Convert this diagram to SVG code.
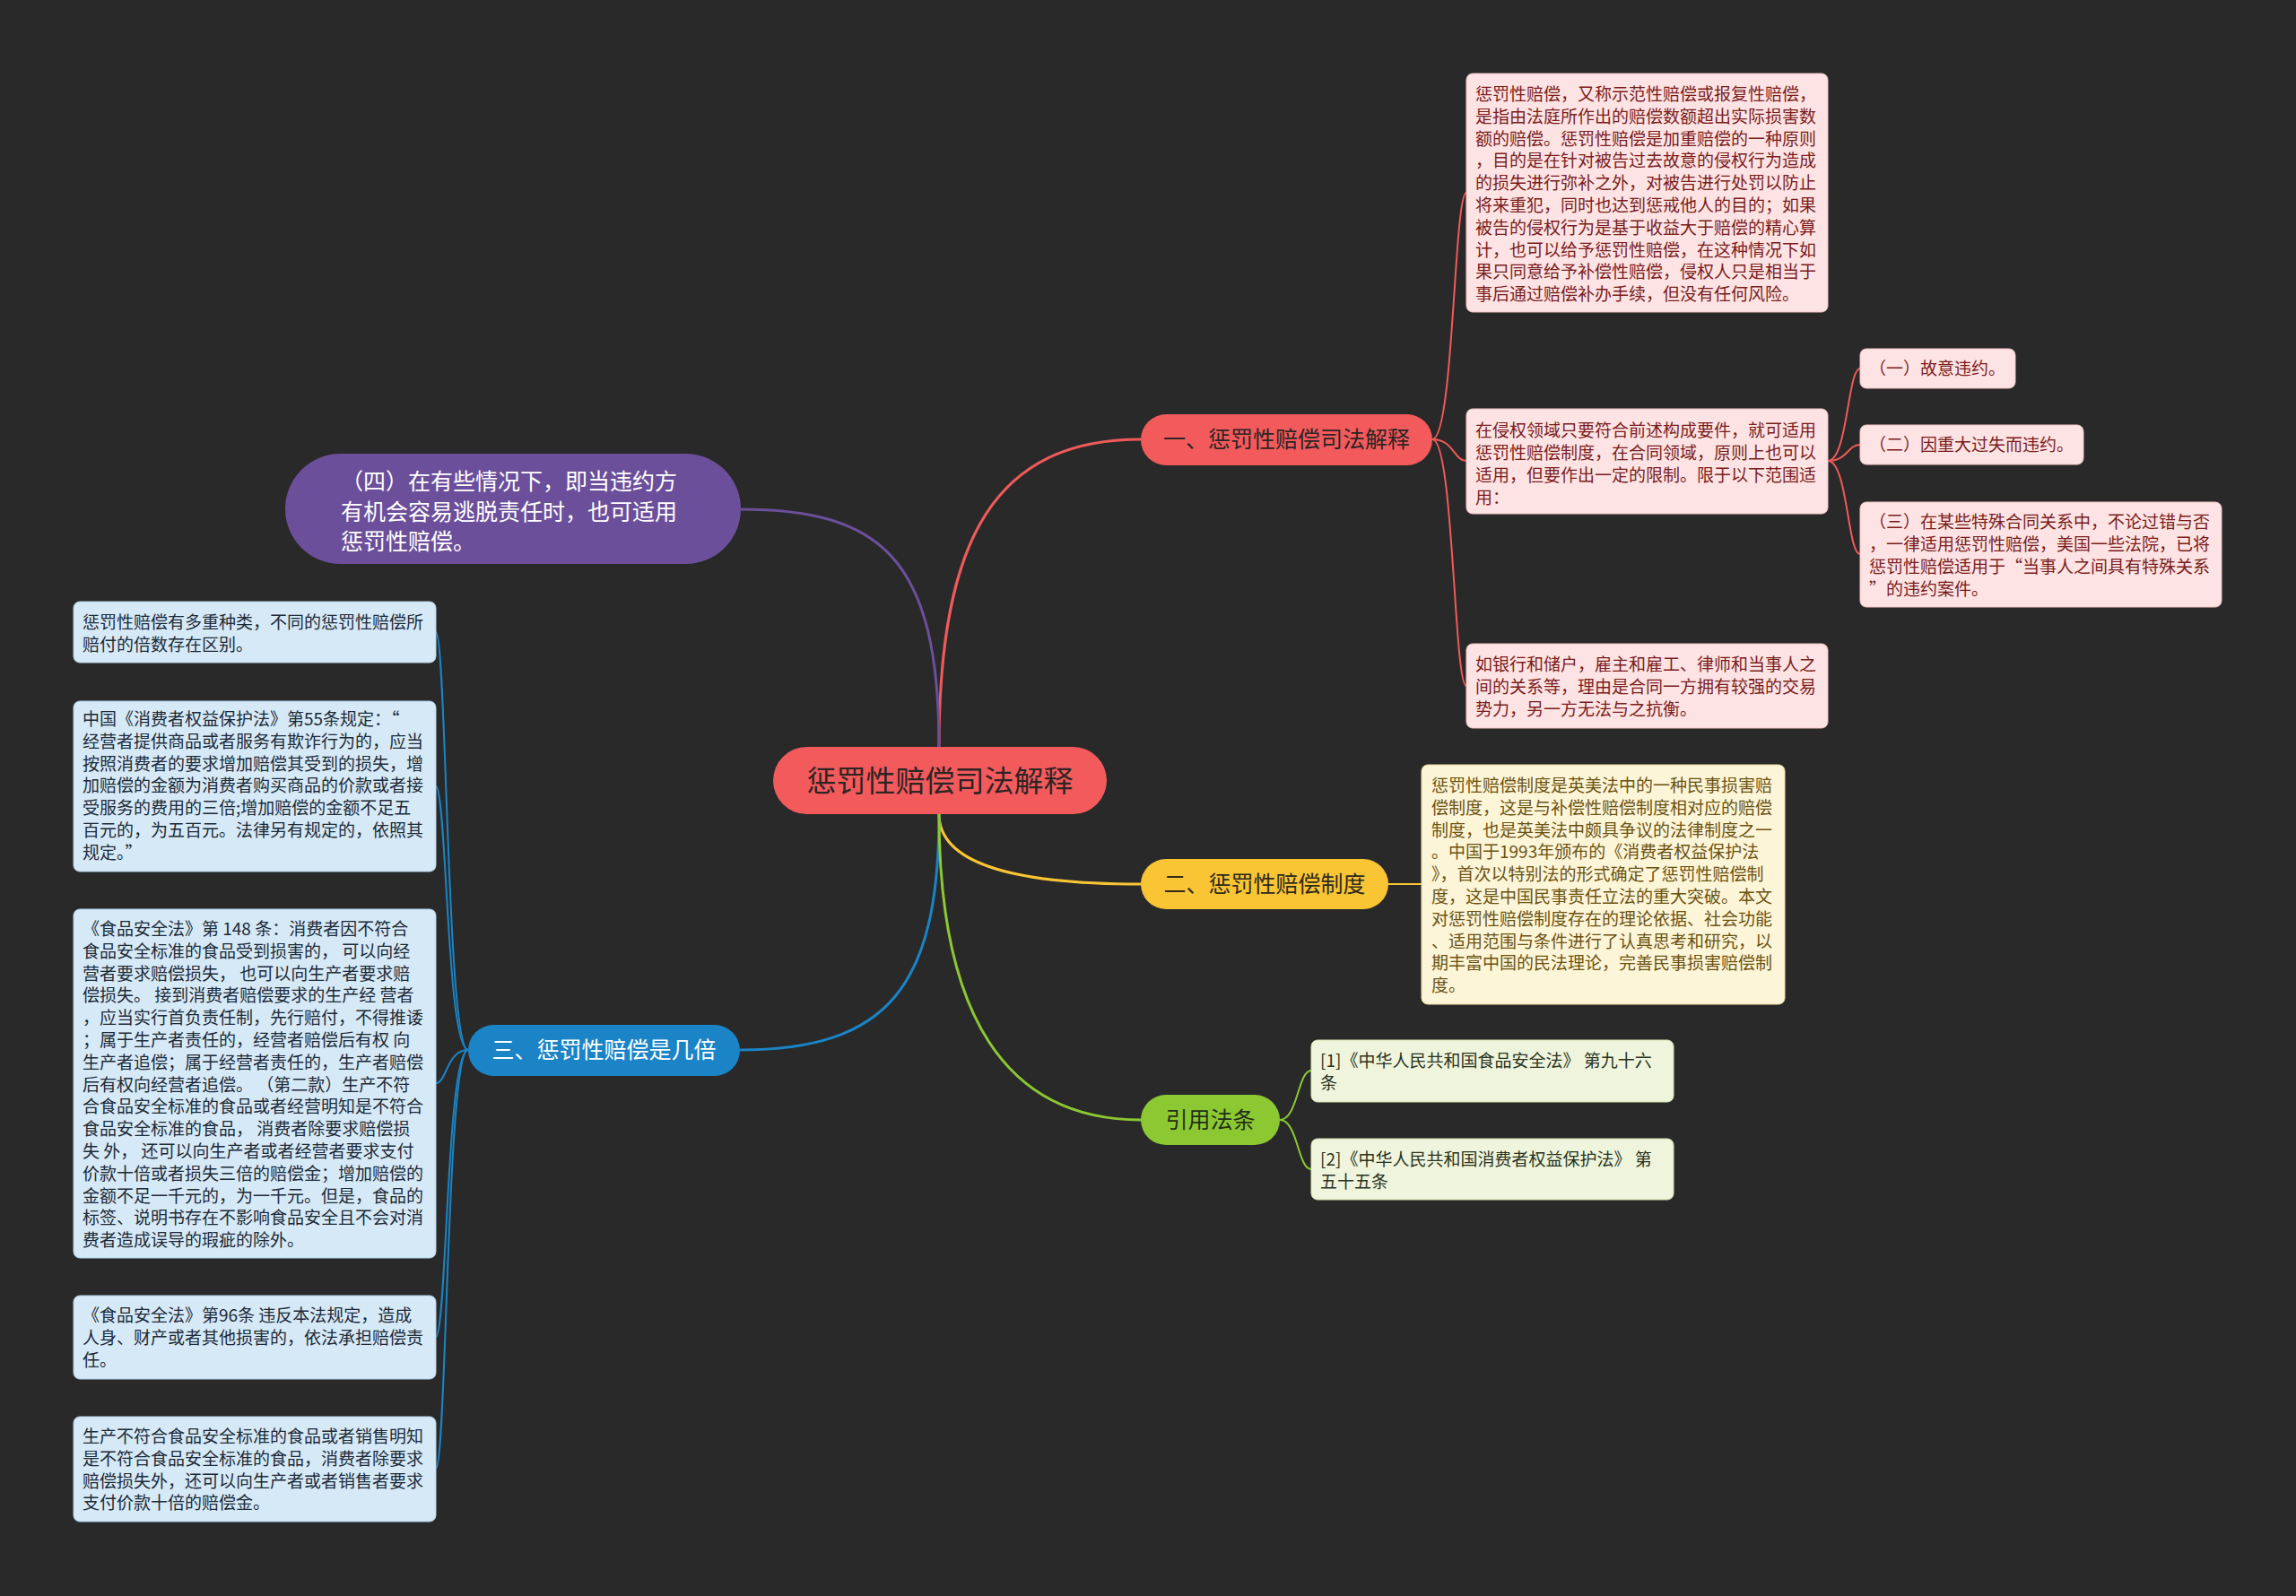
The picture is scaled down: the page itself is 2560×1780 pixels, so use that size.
<svg xmlns="http://www.w3.org/2000/svg" width="2560" height="1780" viewBox="0 0 2560 1780">
<style>
text{font-family:"Noto Sans CJK SC","Noto Sans",sans-serif;}
.leaf{font-size:19px;}
.pk rect{fill:#fde3e3;stroke:#f3c4c4;stroke-width:1;}
.pk text{fill:#7a1c1c;}
.yl rect{fill:#fdf5d8;stroke:#efdca0;stroke-width:1;}
.yl text{fill:#6b5210;}
.gr rect{fill:#eef5dc;stroke:#d2e2b0;stroke-width:1;}
.gr text{fill:#2b3220;}
.bl rect{fill:#d6e9f6;stroke:#b3d2e8;stroke-width:1;}
.bl text{fill:#1c2a38;}
.br{font-size:25px;}
.conn path{fill:none;}
</style>
<rect x="0" y="0" width="2560" height="1780" fill="#292929"/>
<g id="connectors" class="conn">
  <path d="M1047,833 C1047,600 1110,490 1272,490" stroke="#f05a5a" stroke-width="3"/>
  <path d="M1047,833 C1047,620 980,568 825,568" stroke="#6c4f9a" stroke-width="3"/>
  <path d="M1047,908 C1047,960 1120,986 1272,986" stroke="#f9c535" stroke-width="3"/>
  <path d="M1047,908 C1047,1100 990,1171 825,1171" stroke="#1a84c6" stroke-width="3"/>
  <path d="M1047,908 C1047,1130 1120,1249 1272,1249" stroke="#8cc832" stroke-width="3"/>
  <g stroke="#f05a5a" stroke-width="2">
    <path d="M1597,490 C1621,490 1621,215 1635,215"/>
    <path d="M1597,490 C1621,490 1621,514 1635,514"/>
    <path d="M1597,490 C1621,490 1621,765 1635,765"/>
    <path d="M2038,514 C2060,514 2060,411 2074,411"/>
    <path d="M2038,514 C2060,514 2060,496 2074,496"/>
    <path d="M2038,514 C2060,514 2060,618 2074,618"/>
  </g>
  <path d="M1548,986 L1585,986" stroke="#f9c535" stroke-width="2"/>
  <g stroke="#1a84c6" stroke-width="2">
    <path d="M522,1171 C498,1171 498,705 486,705"/>
    <path d="M522,1171 C498,1171 498,877 486,877"/>
    <path d="M522,1171 C498,1171 498,1208 486,1208"/>
    <path d="M522,1171 C498,1171 498,1491 486,1491"/>
    <path d="M522,1171 C498,1171 498,1638 486,1638"/>
  </g>
  <g stroke="#8cc832" stroke-width="2">
    <path d="M1427,1249 C1447,1249 1447,1194 1462,1194"/>
    <path d="M1427,1249 C1447,1249 1447,1304 1462,1304"/>
  </g>
</g>

<g id="root">
  <rect x="862" y="833" width="372" height="75" rx="37.5" fill="#f25a5c"/>
  <text x="1048" y="883" font-size="33" text-anchor="middle" fill="#2e2424">惩罚性赔偿司法解释</text>
</g>

<g id="branch1">
  <rect x="1272" y="462" width="325" height="57" rx="28.5" fill="#f25a5c"/>
  <text class="br" x="1434.5" y="499" text-anchor="middle" fill="#2e2424">一、惩罚性赔偿司法解释</text>
</g>
<g id="branch2">
  <rect x="1272" y="958" width="276" height="56" rx="28" fill="#f9c535"/>
  <text class="br" x="1410" y="995" text-anchor="middle" fill="#2e2a1c">二、惩罚性赔偿制度</text>
</g>
<g id="branch3">
  <rect x="522" y="1143" width="303" height="57" rx="28.5" fill="#1a84c6"/>
  <text class="br" x="673.5" y="1180" text-anchor="middle" fill="#ffffff">三、惩罚性赔偿是几倍</text>
</g>
<g id="branch4">
  <rect x="1272" y="1221" width="155" height="56" rx="28" fill="#8cc832"/>
  <text class="br" x="1349.5" y="1258" text-anchor="middle" fill="#22301a">引用法条</text>
</g>
<g id="branch-purple">
  <rect x="318" y="506" width="508" height="123" rx="61.5" fill="#6c4f9a"/>
  <text font-size="25" fill="#ffffff">
    <tspan x="380" y="546">（四）在有些情况下，即当违约方</tspan>
    <tspan x="380" y="580">有机会容易逃脱责任时，也可适用</tspan>
    <tspan x="380" y="613">惩罚性赔偿。</tspan>
  </text>
</g>

<g id="leaf-p1" class="pk">
  <rect x="1635" y="82" width="403" height="266" rx="7"/>
  <text class="leaf">
    <tspan x="1645" y="112">惩罚性赔偿，又称示范性赔偿或报复性赔偿，</tspan>
    <tspan x="1645" y="136.8">是指由法庭所作出的赔偿数额超出实际损害数</tspan>
    <tspan x="1645" y="161.6">额的赔偿。惩罚性赔偿是加重赔偿的一种原则</tspan>
    <tspan x="1645" y="186.4">，目的是在针对被告过去故意的侵权行为造成</tspan>
    <tspan x="1645" y="211.2">的损失进行弥补之外，对被告进行处罚以防止</tspan>
    <tspan x="1645" y="236">将来重犯，同时也达到惩戒他人的目的；如果</tspan>
    <tspan x="1645" y="260.8">被告的侵权行为是基于收益大于赔偿的精心算</tspan>
    <tspan x="1645" y="285.6">计，也可以给予惩罚性赔偿，在这种情况下如</tspan>
    <tspan x="1645" y="310.4">果只同意给予补偿性赔偿，侵权人只是相当于</tspan>
    <tspan x="1645" y="335.2">事后通过赔偿补办手续，但没有任何风险。</tspan>
  </text>
</g>
<g id="leaf-p2" class="pk">
  <rect x="1635" y="456" width="403" height="117" rx="7"/>
  <text class="leaf">
    <tspan x="1645" y="487">在侵权领域只要符合前述构成要件，就可适用</tspan>
    <tspan x="1645" y="512">惩罚性赔偿制度，在合同领域，原则上也可以</tspan>
    <tspan x="1645" y="537">适用，但要作出一定的限制。限于以下范围适</tspan>
    <tspan x="1645" y="562">用：</tspan>
  </text>
</g>
<g id="leaf-p3" class="pk">
  <rect x="1635" y="718" width="403" height="94" rx="7"/>
  <text class="leaf">
    <tspan x="1645" y="748">如银行和储户，雇主和雇工、律师和当事人之</tspan>
    <tspan x="1645" y="773">间的关系等，理由是合同一方拥有较强的交易</tspan>
    <tspan x="1645" y="798">势力，另一方无法与之抗衡。</tspan>
  </text>
</g>
<g id="leaf-p21" class="pk">
  <rect x="2074" y="389" width="173" height="44" rx="7"/>
  <text class="leaf" x="2084" y="418">（一）故意违约。</text>
</g>
<g id="leaf-p22" class="pk">
  <rect x="2074" y="474" width="249" height="44" rx="7"/>
  <text class="leaf" x="2084" y="503">（二）因重大过失而违约。</text>
</g>
<g id="leaf-p23" class="pk">
  <rect x="2074" y="560" width="403" height="117" rx="7"/>
  <text class="leaf">
    <tspan x="2084" y="589">（三）在某些特殊合同关系中，不论过错与否</tspan>
    <tspan x="2084" y="614">，一律适用惩罚性赔偿，美国一些法院，已将</tspan>
    <tspan x="2084" y="639">惩罚性赔偿适用于“当事人之间具有特殊关系</tspan>
    <tspan x="2084" y="664">”的违约案件。</tspan>
  </text>
</g>

<g id="leaf-y1" class="yl">
  <rect x="1585" y="853" width="405" height="267" rx="7"/>
  <text class="leaf">
    <tspan x="1596" y="883">惩罚性赔偿制度是英美法中的一种民事损害赔</tspan>
    <tspan x="1596" y="907.8">偿制度，这是与补偿性赔偿制度相对应的赔偿</tspan>
    <tspan x="1596" y="932.6">制度，也是英美法中颇具争议的法律制度之一</tspan>
    <tspan x="1596" y="957.4">。中国于1993年颁布的《消费者权益保护法</tspan>
    <tspan x="1596" y="982.2">》，首次以特别法的形式确定了惩罚性赔偿制</tspan>
    <tspan x="1596" y="1007">度，这是中国民事责任立法的重大突破。本文</tspan>
    <tspan x="1596" y="1031.8">对惩罚性赔偿制度存在的理论依据、社会功能</tspan>
    <tspan x="1596" y="1056.6">、适用范围与条件进行了认真思考和研究，以</tspan>
    <tspan x="1596" y="1081.4">期丰富中国的民法理论，完善民事损害赔偿制</tspan>
    <tspan x="1596" y="1106.2">度。</tspan>
  </text>
</g>

<g id="leaf-g1" class="gr">
  <rect x="1462" y="1160" width="404" height="69" rx="7"/>
  <text class="leaf">
    <tspan x="1472" y="1190">[1]《中华人民共和国食品安全法》 第九十六</tspan>
    <tspan x="1472" y="1215">条</tspan>
  </text>
</g>
<g id="leaf-g2" class="gr">
  <rect x="1462" y="1270" width="404" height="68" rx="7"/>
  <text class="leaf">
    <tspan x="1472" y="1300">[2]《中华人民共和国消费者权益保护法》 第</tspan>
    <tspan x="1472" y="1325">五十五条</tspan>
  </text>
</g>

<g id="leaf-b1" class="bl">
  <rect x="82" y="671" width="404" height="68" rx="7"/>
  <text class="leaf">
    <tspan x="92" y="701">惩罚性赔偿有多重种类，不同的惩罚性赔偿所</tspan>
    <tspan x="92" y="725.8">赔付的倍数存在区别。</tspan>
  </text>
</g>
<g id="leaf-b2" class="bl">
  <rect x="82" y="782" width="404" height="190" rx="7"/>
  <text class="leaf">
    <tspan x="92" y="809">中国《消费者权益保护法》第55条规定：“</tspan>
    <tspan x="92" y="833.8">经营者提供商品或者服务有欺诈行为的，应当</tspan>
    <tspan x="92" y="858.6">按照消费者的要求增加赔偿其受到的损失，增</tspan>
    <tspan x="92" y="883.4">加赔偿的金额为消费者购买商品的价款或者接</tspan>
    <tspan x="92" y="908.2">受服务的费用的三倍;增加赔偿的金额不足五</tspan>
    <tspan x="92" y="933">百元的，为五百元。法律另有规定的，依照其</tspan>
    <tspan x="92" y="957.8">规定。”</tspan>
  </text>
</g>
<g id="leaf-b3" class="bl">
  <rect x="82" y="1014" width="404" height="389" rx="7"/>
  <text class="leaf">
    <tspan x="92" y="1043">《食品安全法》第 148 条：消费者因不符合</tspan>
    <tspan x="92" y="1067.8">食品安全标准的食品受到损害的， 可以向经</tspan>
    <tspan x="92" y="1092.6">营者要求赔偿损失， 也可以向生产者要求赔</tspan>
    <tspan x="92" y="1117.4">偿损失。 接到消费者赔偿要求的生产经 营者</tspan>
    <tspan x="92" y="1142.2">，应当实行首负责任制，先行赔付，不得推诿</tspan>
    <tspan x="92" y="1167">；属于生产者责任的，经营者赔偿后有权 向</tspan>
    <tspan x="92" y="1191.8">生产者追偿；属于经营者责任的，生产者赔偿</tspan>
    <tspan x="92" y="1216.6">后有权向经营者追偿。 （第二款）生产不符</tspan>
    <tspan x="92" y="1241.4">合食品安全标准的食品或者经营明知是不符合</tspan>
    <tspan x="92" y="1266.2">食品安全标准的食品， 消费者除要求赔偿损</tspan>
    <tspan x="92" y="1291">失 外， 还可以向生产者或者经营者要求支付</tspan>
    <tspan x="92" y="1315.8">价款十倍或者损失三倍的赔偿金；增加赔偿的</tspan>
    <tspan x="92" y="1340.6">金额不足一千元的，为一千元。但是，食品的</tspan>
    <tspan x="92" y="1365.4">标签、说明书存在不影响食品安全且不会对消</tspan>
    <tspan x="92" y="1390.2">费者造成误导的瑕疵的除外。</tspan>
  </text>
</g>
<g id="leaf-b4" class="bl">
  <rect x="82" y="1445" width="404" height="93" rx="7"/>
  <text class="leaf">
    <tspan x="92" y="1474">《食品安全法》第96条 违反本法规定，造成</tspan>
    <tspan x="92" y="1498.8">人身、财产或者其他损害的，依法承担赔偿责</tspan>
    <tspan x="92" y="1523.6">任。</tspan>
  </text>
</g>
<g id="leaf-b5" class="bl">
  <rect x="82" y="1580" width="404" height="117" rx="7"/>
  <text class="leaf">
    <tspan x="92" y="1609">生产不符合食品安全标准的食品或者销售明知</tspan>
    <tspan x="92" y="1633.8">是不符合食品安全标准的食品，消费者除要求</tspan>
    <tspan x="92" y="1658.6">赔偿损失外，还可以向生产者或者销售者要求</tspan>
    <tspan x="92" y="1683.4">支付价款十倍的赔偿金。</tspan>
  </text>
</g>
</svg>
